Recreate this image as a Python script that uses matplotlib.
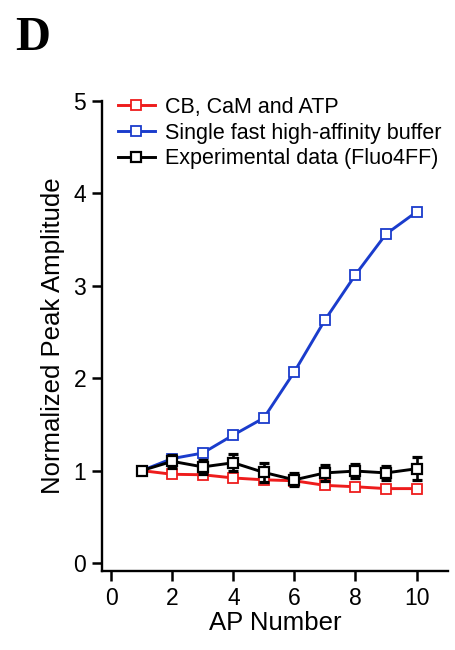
import matplotlib
matplotlib.use('Agg')
import matplotlib.pyplot as plt
import numpy as np

plt.rcParams['font.family'] = ['Liberation Sans', 'DejaVu Sans']

# AP number (x) and normalized peak amplitudes
ap_number = [1, 2, 3, 4, 5, 6, 7, 8, 9, 10]
cb_cam_atp = [1.0, 0.96, 0.955, 0.92, 0.90, 0.89, 0.84, 0.825, 0.805, 0.805]
single_buffer = [1.0, 1.13, 1.19, 1.385, 1.57, 2.07, 2.63, 3.12, 3.56, 3.80]
exp_mean = [1.0, 1.10, 1.04, 1.085, 0.98, 0.90, 0.975, 0.995, 0.975, 1.02]
exp_err = [0.0, 0.07, 0.075, 0.09, 0.10, 0.07, 0.09, 0.072, 0.075, 0.125]

labels = ['CB, CaM and ATP', 'Single fast high-affinity buffer', 'Experimental data (Fluo4FF)']
red = '#ee1c1c'
blue = '#1a3ccc'

fig = plt.figure(figsize=(4.56, 6.5), dpi=100)
ax = fig.add_axes([0.2237, 0.1215, 0.7588, 0.7231])

ax.plot(ap_number, cb_cam_atp, '-s', color=red, lw=2.1, ms=7.2, mfc='white',
        mec=red, mew=1.3, label=labels[0], zorder=3)
ax.plot(ap_number, single_buffer, '-s', color=blue, lw=2.1, ms=7.2, mfc='white',
        mec=blue, mew=1.3, label=labels[1], zorder=3)
ax.errorbar(ap_number, exp_mean, yerr=exp_err, fmt='none', ecolor='black',
            elinewidth=1.9, capsize=3.6, capthick=2.3, zorder=4)
ax.plot(ap_number, exp_mean, '-s', color='black', lw=2.1, ms=7.2, mfc='white',
        mec='black', mew=1.6, label=labels[2], zorder=5)

ax.set_xlim(-0.3, 11.03)
ax.set_ylim(-0.087, 5)
ax.set_xticks([0, 2, 4, 6, 8, 10])
ax.set_yticks([0, 1, 2, 3, 4, 5])
for s in ['top', 'right']:
    ax.spines[s].set_visible(False)
for s in ['left', 'bottom']:
    ax.spines[s].set_linewidth(1.7)
ax.tick_params(direction='out', length=7.5, width=1.8, labelsize=16.5, pad=4)

ax.set_xlabel('AP Number', fontsize=18.5, labelpad=1)
ax.set_ylabel('Normalized Peak Amplitude', fontsize=18.5, labelpad=6)

leg = ax.legend(loc='upper left', bbox_to_anchor=(0.02, 1.027), frameon=False,
                fontsize=15.5, handlelength=1.75, handletextpad=0.45,
                labelspacing=0.22, borderaxespad=0)

fig.text(0.033, 0.923, 'D', fontsize=35, fontweight='bold',
         family='Liberation Serif', ha='left', va='baseline')

fig.savefig('out.png', dpi=100)
